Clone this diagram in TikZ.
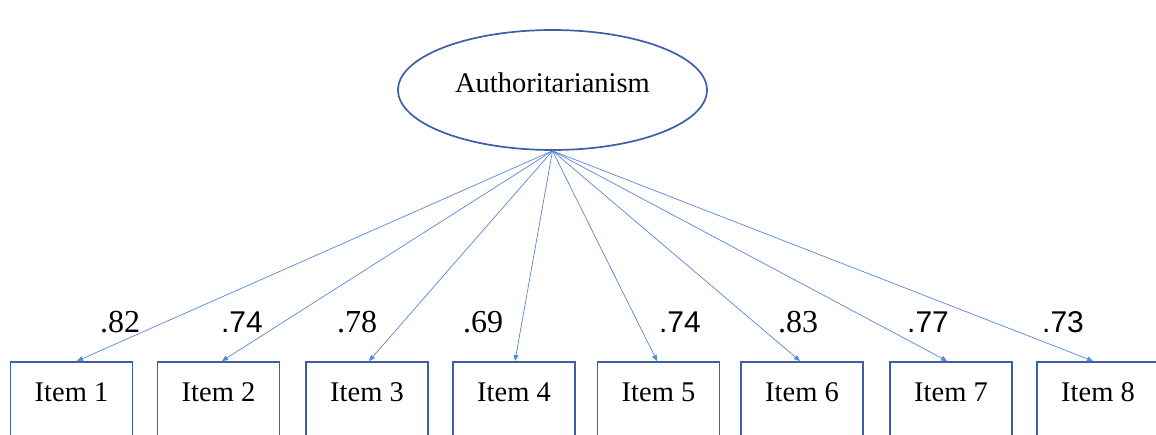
\documentclass[tikz,border=0pt]{standalone}
\usepackage{fontspec}
\setmainfont{Liberation Serif}
\newfontfamily\labsans{Liberation Sans}
\newfontfamily\labserif{Liberation Serif}
\usetikzlibrary{arrows.meta,shapes.geometric}
\definecolor{shapeblue}{RGB}{60,96,168}
\definecolor{linkblue}{RGB}{88,134,218}
\tikzset{
  latent/.style={ellipse, draw=shapeblue, line width=1.7pt, minimum width=309pt, minimum height=120pt, inner sep=0pt, text height=10pt, text depth=6pt, font=\labserif\fontsize{28.5}{28.5}\selectfont},
  itembox/.style={rectangle, draw=shapeblue, line width=1.7pt, minimum width=122pt, inner sep=0pt, text height=40pt, text depth=45pt, anchor=north, font=\labserif\fontsize{28.5}{28.5}\selectfont},
  loading/.style={draw=linkblue, line width=0.7pt, -{Triangle[length=6pt,width=5pt]}},
  lserif/.style={font=\labserif\fontsize{32}{32}\selectfont, inner sep=0pt},
  lsans/.style={font=\labsans\fontsize{30}{30}\selectfont, inner sep=0pt}
}
\begin{document}
\begin{tikzpicture}[x=1pt,y=-1pt]
\useasboundingbox (0,0) rectangle (1156,434);
\clip (0,0) rectangle (1156,434);
\node[latent] (auth) at (552.5,90) {Authoritarianism};
\node[itembox] (i1) at (71.5,361) {Item 1};
\node[itembox] (i2) at (218.5,361) {Item 2};
\node[itembox] (i3) at (367,361) {Item 3};
\node[itembox] (i4) at (514,361) {Item 4};
\node[itembox] (i5) at (658.5,361) {Item 5};
\node[itembox] (i6) at (802,361) {Item 6};
\node[itembox] (i7) at (951,361) {Item 7};
\node[itembox] (i8) at (1098,361) {Item 8};
\draw[loading] (auth.south) -- ([xshift=5.5pt]i1.north);
\draw[loading] (auth.south) -- ([xshift=3.5pt]i2.north);
\draw[loading] (auth.south) -- ([xshift=2pt]i3.north);
\draw[loading] (auth.south) -- ([xshift=1pt]i4.north);
\draw[loading] (auth.south) -- ([xshift=-1.5pt]i5.north);
\draw[loading] (auth.south) -- ([xshift=-2pt]i6.north);
\draw[loading] (auth.south) -- ([xshift=-4pt]i7.north);
\draw[loading] (auth.south) -- ([xshift=-5pt]i8.north);
\node[lserif, anchor=base] (l1) at (120,332) {.82};
\node[lsans, anchor=base] (l2) at (242,332) {.74};
\node[lserif, anchor=base] (l3) at (357,332) {.78};
\node[lserif, anchor=base] (l4) at (483,332) {.69};
\node[lsans, anchor=base] (l5) at (680,332) {.74};
\node[lserif, anchor=base] (l6) at (798,332) {.83};
\node[lsans, anchor=base] (l7) at (928,332) {.77};
\node[lsans, anchor=base] (l8) at (1063,332) {.73};
\end{tikzpicture}
\end{document}
